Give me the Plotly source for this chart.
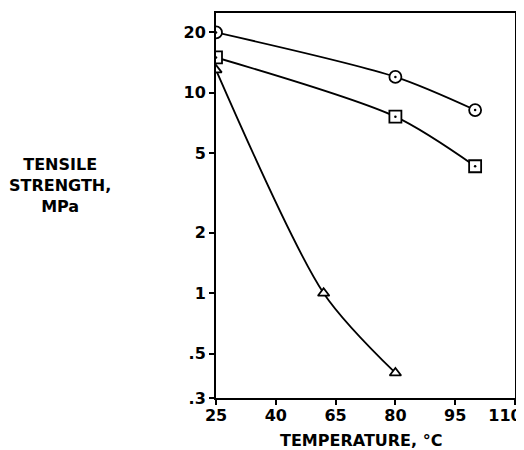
import numpy as np
import plotly.graph_objects as go

# Tick labels (equally spaced on the printed axis)
x_tick_labels = [25, 40, 65, 80, 95, 110]
y_tick_vals = [0.3, 0.5, 1, 2, 5, 10, 20]
y_tick_text = [".3", ".5", "1", "2", "5", "10", "20"]

# Series (temperature in °C, tensile strength in MPa)
circle_temp = [25, 80, 100]
circle_mpa = [20, 12, 8.2]
square_temp = [25, 80, 100]
square_mpa = [15, 7.6, 4.3]
triangle_temp = [25, 60, 80]
triangle_mpa = [13, 1.0, 0.4]

tick_pos = list(range(len(x_tick_labels)))


def to_axis(temps):
    # the printed axis has equally spaced labels; map temperatures onto it
    return np.interp(temps, x_tick_labels, tick_pos)


FONT = "DejaVu Sans"
fig = go.Figure()

series = [
    (circle_temp, circle_mpa, "circle"),
    (square_temp, square_mpa, "square"),
    (triangle_temp, triangle_mpa, "triangle-up"),
]
for temps, vals, sym in series:
    xs = to_axis(temps)
    fig.add_trace(go.Scatter(x=xs, y=vals, mode="lines",
                             line=dict(color="black", width=1.8, shape="spline", smoothing=0.8),
                             showlegend=False, hoverinfo="skip"))
for temps, vals, sym in series:
    xs = to_axis(temps)
    fig.add_trace(go.Scatter(x=xs, y=vals, mode="markers",
                             marker=dict(symbol=sym, size=12 if sym != "triangle-up" else 10,
                                         color="white", line=dict(color="black", width=1.8)),
                             showlegend=False))
    if sym != "triangle-up":
        fig.add_trace(go.Scatter(x=xs, y=vals, mode="markers",
                                 marker=dict(symbol="circle", size=2.5, color="black"),
                                 showlegend=False, hoverinfo="skip"))

tickfont = dict(family=FONT, size=16, weight="bold")
axis_common = dict(showgrid=False, zeroline=False, showline=True, mirror=True,
                   linecolor="black", linewidth=2, ticks="outside", ticklen=5, tickwidth=2,
                   tickcolor="black", automargin=False, tickfont=tickfont)

# main x axis labels all ticks but the last; the last label sits on an overlaid
# axis so it can be nudged left to stay inside the page, as in the reference
x_tick_text = [str(v) for v in x_tick_labels[:-1]] + [""]

fig.update_layout(
    width=516, height=442,
    margin=dict(l=208, r=9, t=5, b=52),
    paper_bgcolor="white", plot_bgcolor="white",
    font=dict(family=FONT, size=15, color="black"),
    xaxis=dict(range=[0, 5], tickvals=tick_pos, ticktext=x_tick_text,
               ticklabelstandoff=-3, **axis_common),
    xaxis2=dict(range=[0, 5], overlaying="x", anchor="y", side="bottom",
                tickvals=[tick_pos[-1]], ticktext=[str(x_tick_labels[-1])],
                showgrid=False, zeroline=False, showline=False, ticks="",
                ticklabelstandoff=6, ticklabelshift=-10, automargin=False,
                tickfont=tickfont),
    yaxis=dict(type="log", range=[np.log10(0.3), np.log10(25)], tickvals=y_tick_vals,
               ticktext=y_tick_text, **axis_common),
    annotations=[
        dict(text="TEMPERATURE, °C", xref="paper", yref="paper", x=0.485, y=-0.11,
             xanchor="center", yanchor="middle", showarrow=False, borderpad=0,
             font=dict(family=FONT, size=16, weight="bold")),
        dict(text="TENSILE<br>STRENGTH,<br>MPa", xref="paper", yref="paper",
             x=-0.522, y=0.553, xanchor="center", yanchor="middle", showarrow=False,
             align="center", font=dict(family=FONT, size=16, weight="bold")),
    ],
)
# empty trace so the overlaid axis is drawn
fig.add_trace(go.Scatter(x=[None], y=[None], xaxis="x2", yaxis="y",
                         showlegend=False, hoverinfo="skip"))

fig.write_html("out.html")
